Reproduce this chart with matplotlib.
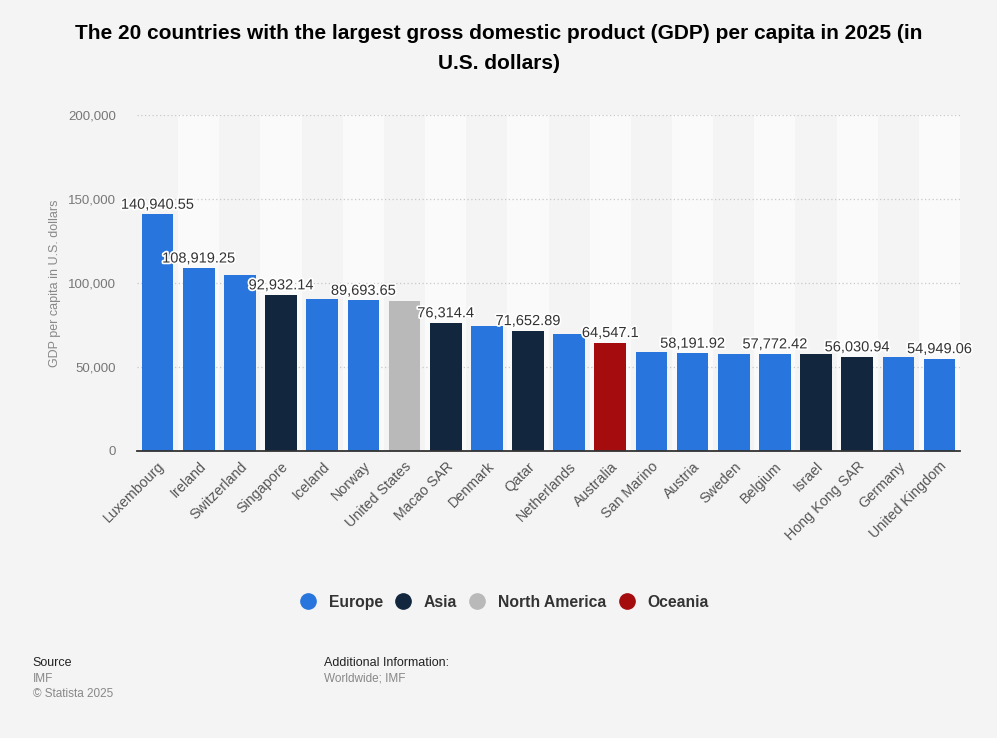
import matplotlib
matplotlib.use("Agg")
import matplotlib.pyplot as plt
import matplotlib.patheffects as pe
from matplotlib.lines import Line2D

countries = ["Luxembourg", "Ireland", "Switzerland", "Singapore", "Iceland", "Norway",
             "United States", "Macao SAR", "Denmark", "Qatar", "Netherlands", "Australia",
             "San Marino", "Austria", "Sweden", "Belgium", "Israel", "Hong Kong SAR",
             "Germany", "United Kingdom"]
values = [140940.55, 108919.25, 104800, 92932.14, 90300, 89693.65,
          89100, 76314.4, 74700, 71652.89, 69900, 64547.1,
          58700, 58191.92, 57800, 57772.42, 57700, 56030.94,
          55900, 54949.06]
value_labels = ["140,940.55", "108,919.25", "", "92,932.14", "", "89,693.65",
                "", "76,314.4", "", "71,652.89", "", "64,547.1",
                "", "58,191.92", "", "57,772.42", "", "56,030.94",
                "", "54,949.06"]
regions = ["Europe", "Europe", "Europe", "Asia", "Europe", "Europe",
           "North America", "Asia", "Europe", "Asia", "Europe", "Oceania",
           "Europe", "Europe", "Europe", "Europe", "Asia", "Asia",
           "Europe", "Europe"]
yticks = [0, 50000, 100000, 150000, 200000]

colors = {"Europe": "#2876dd", "Asia": "#12263e", "North America": "#b9b9b9", "Oceania": "#a40c0e"}

plt.rcParams["font.family"] = ["Liberation Sans", "DejaVu Sans"]
fig = plt.figure(figsize=(9.97, 7.38), dpi=100)
fig.patch.set_facecolor("#f4f4f4")
ax = fig.add_axes([0.1374, 0.389, 0.8256, 0.455])
ax.set_facecolor("#f4f4f4")

n = len(countries)
x = list(range(n))
for i in x:
    if i % 2 == 1:
        ax.axvspan(i - 0.5, i + 0.5, color="#fafafa", zorder=0, lw=0)

for v in yticks[1:]:
    ax.axhline(v, color="#c8c8c8", lw=0.9, ls=(0, (1, 2)), zorder=1)

ax.bar(x, values, width=0.77, color=[colors[r] for r in regions], zorder=2)

for i, (v, lab) in enumerate(zip(values, value_labels)):
    if lab:
        t = ax.text(i, v + 1500, lab, ha="center", va="bottom", fontsize=10.5,
                    color="#333333", zorder=4)
        t.set_path_effects([pe.withStroke(linewidth=2.5, foreground="white")])

ax.set_xlim(-0.5, n - 0.5)
ax.set_ylim(0, 200000)
ax.set_yticks(yticks)
ax.set_yticklabels([f"{v:,}" for v in yticks], fontsize=9.5, color="#777777")
ax.set_xticks(x)
ax.set_xticklabels(countries, rotation=45, ha="right", rotation_mode="anchor",
                   fontsize=10.3, color="#555555")
ax.tick_params(axis="both", length=0, pad=6)
ax.tick_params(axis="y", pad=15)
for s in ["top", "right", "left"]:
    ax.spines[s].set_visible(False)
ax.spines["bottom"].set_color("#333333")
ax.spines["bottom"].set_linewidth(1.3)
ax.set_ylabel("GDP per capita in U.S. dollars", fontsize=9, color="#888888", labelpad=5)

fig.text(0.5, 0.968, "The 20 countries with the largest gross domestic product (GDP) per capita in 2025 (in\nU.S. dollars)",
         ha="center", va="top", fontsize=15, fontweight="bold", color="#000000", linespacing=1.75)

handles = [Line2D([0], [0], marker="o", ls="", markersize=11, markerfacecolor=colors[k],
                  markeredgecolor=colors[k]) for k in colors]
leg = fig.legend(handles, list(colors.keys()), loc="center", bbox_to_anchor=(0.502, 0.184),
                 ncol=4, frameon=False, handletextpad=0.3, columnspacing=0.3,
                 prop={"weight": "bold", "size": 11.3})
for t in leg.get_texts():
    t.set_color("#333333")

fig.text(0.033, 0.102, "Source", fontsize=9, color="#222222", va="center")
fig.text(0.033, 0.080, "IMF", fontsize=8.5, color="#888888", va="center")
fig.text(0.033, 0.060, "© Statista 2025", fontsize=8.5, color="#888888", va="center")
fig.text(0.325, 0.102, "Additional Information:", fontsize=9, color="#222222", va="center")
fig.text(0.325, 0.080, "Worldwide; IMF", fontsize=8.5, color="#888888", va="center")

fig.savefig("out.png", dpi=100, facecolor=fig.get_facecolor())
